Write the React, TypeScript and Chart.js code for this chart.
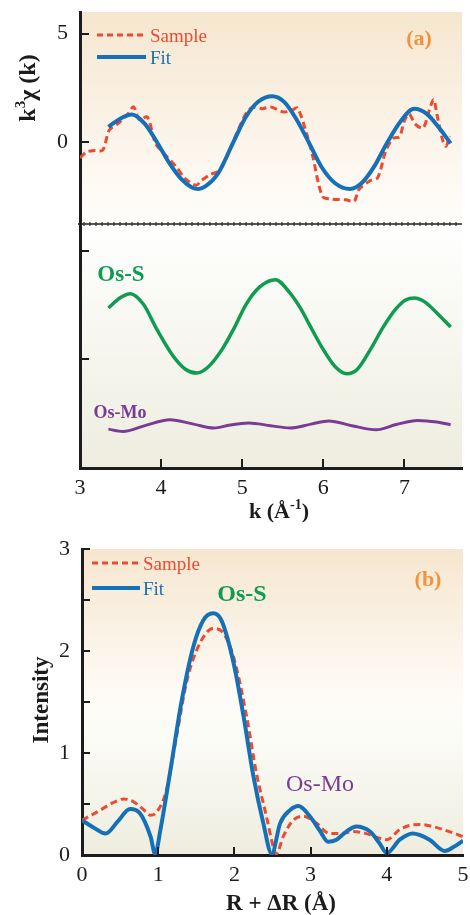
import React, { useEffect, useRef } from "react";
import { Chart, registerables } from "chart.js";

Chart.register(...registerables);

const SERIF = '"Liberation Serif", "Times New Roman", serif';
const RED = "#ee4a30";
const BLUE = "#1570b8";
const GREEN = "#0f9b50";
const PURPLE = "#7a3b96";
const ORANGE = "#f4923a";
const INK = "#1c1c1c";

// ---- Panel (a): k-space ----
const kFit = [3.35, 3.5, 3.64, 3.8, 3.95, 4.1, 4.25, 4.38, 4.46, 4.55, 4.7, 4.89, 5.05, 5.2, 5.37, 5.52, 5.67, 5.82, 5.98, 6.15, 6.33, 6.48, 6.63, 6.79, 6.95, 7.12, 7.28, 7.42, 7.57];
const fitK = [0.71, 1.1, 1.28, 0.85, 0.0, -0.95, -1.7, -2.08, -2.15, -2.02, -1.45, 0.0, 1.2, 1.88, 2.12, 1.85, 1.05, 0.0, -1.15, -1.9, -2.15, -1.85, -1.1, 0.0, 0.95, 1.54, 1.3, 0.7, -0.05];

const kSample = [3.0, 3.08, 3.18, 3.28, 3.36, 3.48, 3.58, 3.66, 3.73, 3.83, 3.93, 4.03, 4.18, 4.3, 4.43, 4.5, 4.6, 4.73, 4.89, 5.05, 5.13, 5.25, 5.35, 5.5, 5.6, 5.68, 5.79, 5.87, 5.99, 6.11, 6.28, 6.38, 6.44, 6.57, 6.67, 6.77, 6.86, 6.94, 7.0, 7.06, 7.13, 7.23, 7.3, 7.36, 7.4, 7.47, 7.51, 7.56];
const sampleK = [-0.72, -0.45, -0.38, -0.36, 0.55, 0.9, 1.25, 1.63, 1.05, 1.17, -0.05, -0.49, -1.1, -1.68, -1.98, -1.75, -1.5, -1.26, 0.05, 1.35, 1.6, 1.55, 1.63, 1.4, 1.45, 1.58, 0.45, -0.65, -2.49, -2.62, -2.65, -2.72, -2.17, -1.78, -1.63, -0.4, 0.18, 0.26, 1.0, 1.3, 0.85, 0.66, 1.4, 1.97, 1.3, 0.12, -0.18, 0.28];

const kOsS = [3.35, 3.5, 3.62, 3.78, 3.95, 4.15, 4.3, 4.44, 4.58, 4.75, 4.89, 5.05, 5.22, 5.41, 5.58, 5.72, 5.84, 6.0, 6.15, 6.29, 6.42, 6.58, 6.74, 6.9, 7.02, 7.12, 7.25, 7.4, 7.57];
const osS = [-7.63, -7.15, -6.97, -7.45, -8.63, -9.85, -10.45, -10.63, -10.35, -9.55, -8.63, -7.45, -6.65, -6.33, -6.9, -7.65, -8.48, -9.55, -10.35, -10.66, -10.45, -9.55, -8.5, -7.65, -7.25, -7.17, -7.35, -7.86, -8.51];

const kOsMo = [3.35, 3.53, 3.8, 4.11, 4.4, 4.65, 4.85, 5.08, 5.35, 5.59, 5.85, 6.07, 6.35, 6.65, 6.9, 7.16, 7.4, 7.57];
const osMo = [-13.21, -13.32, -13.05, -12.78, -12.98, -13.16, -13.02, -12.93, -13.05, -13.16, -12.98, -12.83, -13.05, -13.24, -13.0, -12.81, -12.88, -13.01];

const kTicksLabelled = [5, 0];
const kTickMarksY = [5, 0, -5, -10];
const kTickMarksX = [4, 5, 6, 7];
const DIVIDER_A = -3.75;

// ---- Panel (b): R-space ----
const rFit = [0.0, 0.15, 0.31, 0.47, 0.63, 0.76, 0.9, 0.96, 1.03, 1.16, 1.31, 1.46, 1.59, 1.72, 1.83, 1.99, 2.12, 2.25, 2.38, 2.49, 2.6, 2.73, 2.84, 2.99, 3.12, 3.23, 3.34, 3.47, 3.6, 3.78, 3.9, 4.0, 4.17, 4.34, 4.56, 4.76, 4.88, 5.0];
const fitR = [0.34, 0.27, 0.21, 0.33, 0.45, 0.41, 0.18, 0.01, 0.25, 0.83, 1.52, 2.04, 2.3, 2.37, 2.3, 1.88, 1.36, 0.77, 0.31, 0.01, 0.31, 0.44, 0.48, 0.38, 0.24, 0.13, 0.15, 0.23, 0.28, 0.23, 0.12, 0.02, 0.15, 0.21, 0.15, 0.04, 0.08, 0.14];

const rSample = [0.0, 0.24, 0.4, 0.55, 0.68, 0.8, 0.9, 0.98, 1.11, 1.24, 1.38, 1.55, 1.72, 1.86, 1.99, 2.16, 2.29, 2.42, 2.51, 2.55, 2.64, 2.77, 2.9, 3.08, 3.25, 3.4, 3.56, 3.73, 3.88, 4.0, 4.17, 4.3, 4.45, 4.6, 4.74, 5.0];
const sampleR = [0.34, 0.44, 0.51, 0.55, 0.52, 0.45, 0.39, 0.42, 0.64, 1.16, 1.72, 2.08, 2.22, 2.17, 1.94, 1.36, 0.8, 0.38, 0.08, 0.01, 0.18, 0.34, 0.38, 0.31, 0.21, 0.21, 0.23, 0.21, 0.17, 0.15, 0.25, 0.29, 0.3, 0.28, 0.25, 0.18];

const rTickMarksY = [0.5, 1, 1.5, 2, 2.5, 3];
const rTickMarksX = [1, 2, 3, 4];

const pts = (xs: number[], ys: number[]) => xs.map((x, i) => ({ x, y: ys[i] }));

type Seg = { t: string; sup?: boolean };

function drawRich(
  ctx: CanvasRenderingContext2D,
  segs: Seg[],
  cx: number,
  cy: number,
  size: number,
  weight: string,
  color: string,
  angle = 0,
  align: "center" | "left" = "center"
) {
  ctx.save();
  ctx.translate(cx, cy);
  if (angle) ctx.rotate(angle);
  ctx.fillStyle = color;
  ctx.textBaseline = "alphabetic";
  ctx.textAlign = "left";
  const fontFor = (s: Seg) => `${weight} ${s.sup ? Math.round(size * 0.62) : size}px ${SERIF}`;
  const widths = segs.map((s) => {
    ctx.font = fontFor(s);
    return ctx.measureText(s.t).width;
  });
  const total = widths.reduce((a, b) => a + b, 0);
  let x = align === "center" ? -total / 2 : 0;
  const base = size * 0.33;
  segs.forEach((s, i) => {
    ctx.font = fontFor(s);
    ctx.fillText(s.t, x, s.sup ? base - size * 0.4 : base);
    x += widths[i];
  });
  ctx.restore();
}

function legendLine(ctx: CanvasRenderingContext2D, x1: number, x2: number, y: number, color: string, dashed: boolean, width: number) {
  ctx.save();
  ctx.strokeStyle = color;
  ctx.lineWidth = width;
  ctx.setLineDash(dashed ? [6, 4] : []);
  ctx.beginPath();
  ctx.moveTo(x1, y);
  ctx.lineTo(x2, y);
  ctx.stroke();
  ctx.restore();
}

function tickMarks(chart: any, xs: number[], ys: number[], len: number) {
  const { ctx, chartArea, scales } = chart;
  ctx.save();
  ctx.strokeStyle = INK;
  ctx.lineWidth = 2;
  ys.forEach((v) => {
    const py = Math.round(scales.y.getPixelForValue(v));
    ctx.beginPath();
    ctx.moveTo(chartArea.left, py);
    ctx.lineTo(chartArea.left + len, py);
    ctx.stroke();
  });
  xs.forEach((v) => {
    const px = Math.round(scales.x.getPixelForValue(v));
    ctx.beginPath();
    ctx.moveTo(px, chartArea.bottom);
    ctx.lineTo(px, chartArea.bottom - len);
    ctx.stroke();
  });
  ctx.restore();
}

const panelAPlugin = {
  id: "panelA",
  beforeDraw(chart: any) {
    const { ctx, chartArea } = chart;
    const { left, right, top, bottom } = chartArea;
    const yDiv = chart.scales.y.getPixelForValue(DIVIDER_A);
    ctx.save();
    const g1 = ctx.createLinearGradient(0, top, 0, yDiv);
    g1.addColorStop(0, "#f6e6cf");
    g1.addColorStop(0.55, "#fbf3e8");
    g1.addColorStop(1, "#fffefb");
    ctx.fillStyle = g1;
    ctx.fillRect(left, top, right - left, yDiv - top);
    const g2 = ctx.createLinearGradient(0, yDiv, 0, bottom);
    g2.addColorStop(0, "#ffffff");
    g2.addColorStop(1, "#eeeddf");
    ctx.fillStyle = g2;
    ctx.fillRect(left, yDiv, right - left, bottom - yDiv);
    ctx.restore();
  },
  afterDraw(chart: any) {
    const { ctx, chartArea } = chart;
    const yDiv = Math.round(chart.scales.y.getPixelForValue(DIVIDER_A));
    ctx.save();
    ctx.strokeStyle = INK;
    ctx.lineWidth = 1.5;
    ctx.beginPath();
    ctx.moveTo(chartArea.left - 2, yDiv);
    ctx.lineTo(chartArea.right, yDiv);
    ctx.stroke();
    ctx.lineWidth = 1.2;
    ctx.strokeStyle = "#333";
    ctx.beginPath();
    for (let x = chartArea.left + 4; x < chartArea.right; x += 6) {
      ctx.moveTo(x, yDiv - 2);
      ctx.lineTo(x, yDiv + 2);
    }
    ctx.stroke();
    ctx.restore();

    tickMarks(chart, kTickMarksX, kTickMarksY, 9);

    legendLine(ctx, 97, 146, 35, RED, true, 3);
    legendLine(ctx, 97, 146, 57, BLUE, false, 4);
    drawRich(ctx, [{ t: "Sample" }], 150, 36, 19, "normal", RED, 0, "left");
    drawRich(ctx, [{ t: "Fit" }], 150, 58, 19, "normal", BLUE, 0, "left");
    drawRich(ctx, [{ t: "(a)" }], 419, 38, 22, "bold", ORANGE);
    drawRich(ctx, [{ t: "Os-S" }], 121, 273, 23, "bold", GREEN);
    drawRich(ctx, [{ t: "Os-Mo" }], 120, 412, 18, "bold", PURPLE);

    drawRich(ctx, [{ t: "k" }, { t: "3", sup: true }, { t: "χ (k)" }], 27, 88, 24, "bold", INK, -Math.PI / 2);
    drawRich(ctx, [{ t: "k (Å" }, { t: "-1", sup: true }, { t: ")" }], 279, 511, 22, "bold", INK);
  },
};

const panelBPlugin = {
  id: "panelB",
  beforeDraw(chart: any) {
    const { ctx, chartArea } = chart;
    const { left, right, top, bottom } = chartArea;
    ctx.save();
    const g = ctx.createLinearGradient(0, top, 0, bottom);
    g.addColorStop(0, "#f6e6cf");
    g.addColorStop(0.5, "#fefcf8");
    g.addColorStop(0.6, "#fcfcf7");
    g.addColorStop(1, "#eeeddf");
    ctx.fillStyle = g;
    ctx.fillRect(left, top, right - left, bottom - top);
    ctx.restore();
  },
  afterDraw(chart: any) {
    const { ctx } = chart;
    tickMarks(chart, rTickMarksX, rTickMarksY, 8);
    legendLine(ctx, 92, 140, 33, RED, true, 3);
    legendLine(ctx, 92, 140, 58, BLUE, false, 4);
    drawRich(ctx, [{ t: "Sample" }], 143, 34, 19, "normal", RED, 0, "left");
    drawRich(ctx, [{ t: "Fit" }], 143, 59, 19, "normal", BLUE, 0, "left");
    drawRich(ctx, [{ t: "(b)" }], 428, 49, 22, "bold", ORANGE);
    drawRich(ctx, [{ t: "Os-S" }], 242, 63, 24, "bold", GREEN);
    drawRich(ctx, [{ t: "Os-Mo" }], 320, 253, 24, "normal", PURPLE);
    drawRich(ctx, [{ t: "Intensity" }], 40, 170, 23, "bold", INK, -Math.PI / 2);
    drawRich(ctx, [{ t: "R + ΔR (Å)" }], 281, 372, 23, "bold", INK);
  },
};

const tickFont = { family: SERIF, size: 22 };

const zeroPad = (s: any) => {
  s.paddingTop = 0;
  s.paddingBottom = 0;
  s.paddingLeft = 0;
  s.paddingRight = 0;
};

function makeA(canvas: HTMLCanvasElement) {
  return new Chart(canvas, {
    type: "line",
    data: {
      datasets: [
        { data: pts(kOsS, osS), borderColor: GREEN, borderWidth: 3.5, cubicInterpolationMode: "monotone" },
        { data: pts(kOsMo, osMo), borderColor: PURPLE, borderWidth: 3, cubicInterpolationMode: "monotone" },
        { data: pts(kFit, fitK), borderColor: BLUE, borderWidth: 4, cubicInterpolationMode: "monotone" },
        { data: pts(kSample, sampleK), borderColor: RED, borderWidth: 3, borderDash: [7, 4], tension: 0.3 },
      ],
    } as any,
    options: {
      responsive: false,
      animation: false,
      events: [],
      layout: { padding: { top: 12, right: 8, left: 0, bottom: 0 } },
      plugins: { legend: { display: false }, tooltip: { enabled: false } },
      elements: { point: { radius: 0 }, line: { fill: false } },
      scales: {
        x: {
          type: "linear",
          min: 3,
          max: 7.71,
          grid: { display: false, drawTicks: false },
          border: { display: true, color: INK, width: 3 },
          ticks: { stepSize: 1, includeBounds: false, padding: 7, color: INK, font: tickFont, maxRotation: 0 },
          afterFit(s: any) {
            s.height = 62;
            zeroPad(s);
          },
        },
        y: {
          type: "linear",
          min: -15,
          max: 6,
          grid: { display: false, drawTicks: false },
          border: { display: true, color: INK, width: 3 },
          ticks: {
            stepSize: 5,
            includeBounds: false,
            padding: 12,
            color: INK,
            font: tickFont,
            callback: (v: any) => (kTicksLabelled.includes(Number(v)) ? String(v) : ""),
          },
          afterFit(s: any) {
            s.width = 80;
            zeroPad(s);
          },
        },
      },
    } as any,
    plugins: [panelAPlugin],
  });
}

function makeB(canvas: HTMLCanvasElement) {
  return new Chart(canvas, {
    type: "line",
    data: {
      datasets: [
        { data: pts(rFit, fitR), borderColor: BLUE, borderWidth: 4, cubicInterpolationMode: "monotone" },
        { data: pts(rSample, sampleR), borderColor: RED, borderWidth: 3, borderDash: [7, 4], cubicInterpolationMode: "monotone" },
      ],
    } as any,
    options: {
      responsive: false,
      animation: false,
      events: [],
      layout: { padding: { top: 19, right: 7, left: 0, bottom: 0 } },
      plugins: { legend: { display: false }, tooltip: { enabled: false } },
      elements: { point: { radius: 0 }, line: { fill: false } },
      scales: {
        x: {
          type: "linear",
          min: 0,
          max: 5,
          grid: { display: false, drawTicks: false },
          border: { display: true, color: INK, width: 3 },
          ticks: { stepSize: 1, padding: 7, color: INK, font: tickFont, maxRotation: 0 },
          afterFit(s: any) {
            s.height = 60;
            zeroPad(s);
          },
        },
        y: {
          type: "linear",
          min: 0,
          max: 3,
          grid: { display: false, drawTicks: false },
          border: { display: true, color: INK, width: 3 },
          ticks: {
            stepSize: 0.5,
            padding: 12,
            color: INK,
            font: tickFont,
            callback: (v: any) => (Number.isInteger(Number(v)) ? String(v) : ""),
          },
          afterFit(s: any) {
            s.width = 82;
            zeroPad(s);
          },
        },
      },
    } as any,
    plugins: [panelBPlugin],
  });
}

export default function App() {
  const refA = useRef<HTMLCanvasElement | null>(null);
  const refB = useRef<HTMLCanvasElement | null>(null);
  useEffect(() => {
    const a = refA.current ? makeA(refA.current) : null;
    const b = refB.current ? makeB(refB.current) : null;
    return () => {
      a?.destroy();
      b?.destroy();
    };
  }, []);
  return (
    <div style={{ position: "absolute", left: 0, top: 0, width: 470, height: 915, background: "#fff", overflow: "hidden" }}>
      <canvas ref={refA} width={470} height={530} style={{ position: "absolute", left: 0, top: 0, width: 470, height: 530 }} />
      <canvas ref={refB} width={470} height={385} style={{ position: "absolute", left: 0, top: 530, width: 470, height: 385 }} />
    </div>
  );
}
